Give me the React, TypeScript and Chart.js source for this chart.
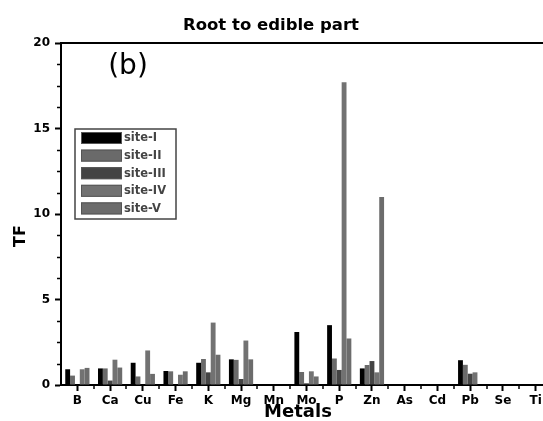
import React, { useEffect, useRef } from "react";
import { Chart, registerables } from "chart.js";

Chart.register(...registerables);

const categories = ["B", "Ca", "Cu", "Fe", "K", "Mg", "Mn", "Mo", "P", "Zn", "As", "Cd", "Pb", "Se", "Ti"];
const siteI = [0.92, 0.97, 1.3, 0.82, 1.3, 1.5, 0, 3.1, 3.5, 0.97, 0, 0, 1.45, 0, 0];
const siteII = [0.55, 0.97, 0.5, 0.8, 1.52, 1.47, 0, 0.76, 1.55, 1.17, 0, 0, 1.18, 0, 0];
const siteIII = [0, 0.26, 0, 0, 0.74, 0.35, 0, 0.1, 0.88, 1.4, 0, 0, 0.66, 0, 0];
const siteIV = [0.92, 1.48, 2.02, 0.6, 3.65, 2.6, 0, 0.8, 17.7, 0.74, 0, 0, 0.74, 0, 0];
const siteV = [1.0, 1.02, 0.65, 0.8, 1.77, 1.5, 0, 0.5, 2.72, 11.0, 0, 0, 0, 0, 0];

const seriesNames = ["site-I", "site-II", "site-III", "site-IV", "site-V"];
const seriesColors = ["#000000", "#6a6a6a", "#444444", "#727272", "#6c6c6c"];
const yMajorTicks = [0, 5, 10, 15, 20];
const yMinorStep = 1.25;

const FONT = "'DejaVu Sans', sans-serif";

const decorPlugin = {
  id: "decor",
  afterDraw(chart: any) {
    const ctx = chart.ctx;
    const area = chart.chartArea;
    const xs = chart.scales.x;
    const ys = chart.scales.y;
    ctx.save();
    ctx.strokeStyle = "#000";
    // top frame line
    ctx.lineWidth = 2;
    ctx.beginPath();
    ctx.moveTo(area.left - 1, area.top);
    ctx.lineTo(area.right, area.top);
    ctx.stroke();
    // y minor ticks
    ctx.lineWidth = 1.5;
    for (let v = 0; v <= 20 + 1e-6; v += yMinorStep) {
      if (yMajorTicks.includes(v)) continue;
      const y = Math.round(ys.getPixelForValue(v)) + 0.5;
      ctx.beginPath();
      ctx.moveTo(area.left - 4, y);
      ctx.lineTo(area.left, y);
      ctx.stroke();
    }
    // x minor ticks between categories
    for (let i = 0; i < categories.length - 1; i++) {
      const x = (xs.getPixelForTick(i) + xs.getPixelForTick(i + 1)) / 2;
      ctx.beginPath();
      ctx.moveTo(Math.round(x), area.bottom);
      ctx.lineTo(Math.round(x), area.bottom + 4);
      ctx.stroke();
    }
    // title
    ctx.fillStyle = "#000";
    ctx.font = `bold 16.5px ${FONT}`;
    ctx.textAlign = "center";
    ctx.textBaseline = "alphabetic";
    ctx.fillText("Root to edible part", 271, 30);
    // (b)
    ctx.font = `28px ${FONT}`;
    ctx.fillText("(b)", 128, 74);
    // x title
    ctx.font = `bold 18px ${FONT}`;
    ctx.fillText("Metals", 298, 417);
    // y title
    ctx.save();
    ctx.translate(25, 236);
    ctx.rotate(-Math.PI / 2);
    ctx.font = `bold 16px ${FONT}`;
    ctx.textBaseline = "alphabetic";
    ctx.fillText("TF", 0, 0);
    ctx.restore();
    // legend
    const lx = 75, ly = 129, lw = 101, lh = 90;
    ctx.lineWidth = 1.5;
    ctx.strokeStyle = "#444";
    ctx.strokeRect(lx, ly, lw, lh);
    ctx.textAlign = "left";
    ctx.textBaseline = "middle";
    ctx.font = `bold 11.5px ${FONT}`;
    chart.data.datasets.forEach((ds: any, i: number) => {
      const sy = 132 + i * 17.6;
      ctx.fillStyle = ds.backgroundColor;
      ctx.fillRect(81, sy, 41, 12);
      ctx.lineWidth = 1;
      ctx.strokeStyle = "#555";
      ctx.strokeRect(81.5, sy + 0.5, 40, 11);
      ctx.fillStyle = "#444";
      ctx.fillText(ds.label, 124, sy + 6.5);
    });
    ctx.restore();
  },
};

export default function App() {
  const ref = useRef<HTMLCanvasElement | null>(null);
  useEffect(() => {
    if (!ref.current) return;
    const seriesData = [siteI, siteII, siteIII, siteIV, siteV];
    const tickFont = { family: FONT, weight: "bold" as const, size: 12 };
    const chart = new Chart(ref.current, {
      type: "bar",
      data: {
        labels: categories,
        datasets: seriesData.map((d, i) => ({
          label: seriesNames[i],
          data: d,
          backgroundColor: seriesColors[i],
          borderWidth: 0,
          categoryPercentage: 0.74,
          barPercentage: 1,
        })),
      },
      options: {
        responsive: false,
        animation: false,
        devicePixelRatio: 1,
        layout: { padding: { left: 0, top: 43, right: 8, bottom: 0 } },
        plugins: {
          legend: { display: false },
          title: { display: false },
          tooltip: { enabled: false },
        },
        scales: {
          x: {
            grid: {
              display: true,
              drawOnChartArea: false,
              offset: false,
              tickLength: 6,
              tickWidth: 2,
              tickColor: "#000",
            },
            border: { display: true, width: 2, color: "#000" },
            ticks: {
              font: tickFont,
              color: "#000",
              padding: 3,
              autoSkip: false,
              maxRotation: 0,
            },
            afterFit: (s: any) => {
              s.height = 36;
            },
          },
          y: {
            min: 0,
            max: 20,
            grid: {
              display: true,
              drawOnChartArea: false,
              tickLength: 6,
              tickWidth: 2,
              tickColor: "#000",
            },
            border: { display: true, width: 2, color: "#000" },
            ticks: {
              stepSize: 5,
              font: tickFont,
              color: "#000",
              padding: 5,
            },
            afterFit: (s: any) => {
              s.width = 61;
            },
          },
        },
      },
      plugins: [decorPlugin],
    });
    return () => chart.destroy();
  }, []);
  return (
    <div
      style={{
        position: "fixed",
        left: 0,
        top: 0,
        width: 543,
        height: 421,
        overflow: "hidden",
        background: "#fff",
      }}
    >
      <canvas ref={ref} width={560} height={421} style={{ display: "block", width: 560, height: 421 }} />
    </div>
  );
}
